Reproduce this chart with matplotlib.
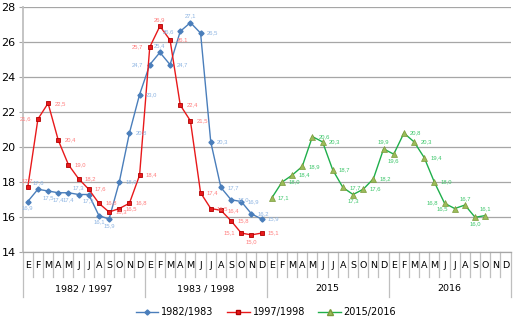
import matplotlib
matplotlib.use("Agg")
import matplotlib.pyplot as plt
from matplotlib.lines import Line2D
import numpy as np

months = ["E", "F", "M", "A", "M", "J", "J", "A", "S", "O", "N", "D"]
groups = ["1982 / 1997", "1983 / 1998", "2015", "2016"]
yticks = [14, 16, 18, 20, 22, 24, 26, 28]

# monthly values, January of the first year through December of the second
s1982_1983 = [16.9, 17.6, 17.5, 17.4, 17.4, 17.3, 17.3, 16.1, 15.9, 18.0, 20.8, 23.0,
              24.7, 25.4, 24.7, 26.6, 27.1, 26.5, 20.3, 17.7, 17.0, 16.9, 16.2, 15.9]
s1997_1998 = [17.7, 21.6, 22.5, 20.4, 19.0, 18.2, 17.6, 16.8, 16.3, 16.5, 16.8, 18.4,
              25.7, 26.9, 26.1, 22.4, 21.5, 17.4, 16.5, 16.4, 15.8, 15.1, 15.0, 15.1]
# January 2015 through October 2016
s2015_2016 = [17.1, 18.0, 18.4, 18.9, 20.6, 20.3, 18.7, 17.7, 17.3, 17.6, 18.2, 19.9,
              19.6, 20.8, 20.3, 19.4, 18.0, 16.8, 16.5, 16.7, 16.0, 16.1]

# where each value label sits: r=right, l=left, a=above, b=below
pos_1982 = list("babbbabbbrrrlarlarrrrrrr")
pos_1997 = list("alrrrrrrrrrrlarrrrrrrlbr")
pos_2015 = list("rrrrrrrrbrrabrrrrllaba")

BLUE = "#4A7EBB"
RED = "#E8191B"
GREEN = "#1FAF4B"

fig = plt.figure(figsize=(5.27, 3.24), dpi=100)
ax = fig.add_axes([0.043, 0.221, 0.926, 0.758])

n_cat = len(groups) * len(months)
ax.set_xlim(-0.5, n_cat - 0.5)
ax.set_ylim(yticks[0], yticks[-1])
ax.set_yticks(yticks)
ax.set_xticks([])
ax.grid(axis="y", color="#A6A6A6", lw=0.9)
ax.set_axisbelow(True)
for s in ["top", "right"]:
    ax.spines[s].set_visible(False)
ax.spines["left"].set_color("#BFBFBF")
ax.spines["left"].set_linewidth(1.3)
ax.spines["bottom"].set_color("#A6A6A6")
ax.spines["bottom"].set_linewidth(0.9)
ax.tick_params(axis="y", length=3, color="#A6A6A6", labelsize=8, pad=2)

x12 = np.arange(len(s1982_1983))
x15 = len(months) * 2 + np.arange(len(s2015_2016))

ax.plot(x12, s1982_1983, color=BLUE, lw=1.0, marker="D", ms=2.6,
        mfc=BLUE, mec=BLUE, zorder=3)
ax.plot(x12, s1997_1998, color=RED, lw=1.0, marker="s", ms=3.5,
        mfc=RED, mec="#B00000", mew=0.6, zorder=3)
ax.plot(x15, s2015_2016, color=GREEN, lw=1.0, marker="^", ms=4,
        mfc="#9BBB59", mec="#7A9A3A", mew=0.5, zorder=3)

offsets = {"r": ((4.5, 0), "left", "center"),
           "l": ((-4.5, 0), "right", "center"),
           "a": ((0, 3), "center", "bottom"),
           "b": ((0, -3), "center", "top")}


def add_labels(xs, vals, where, color):
    for x, v, p in zip(xs, vals, where):
        off, ha, va = offsets[p]
        ax.annotate(f"{v:.1f}".replace(".", ","), (x, v), xytext=off,
                    textcoords="offset points", ha=ha, va=va, fontsize=4.2,
                    family="Liberation Sans", color=color, zorder=4)


add_labels(x12, s1982_1983, pos_1982, "#8DB4E2")
add_labels(x12, s1997_1998, pos_1997, "#FF7C7C")
add_labels(x15, s2015_2016, pos_2015, "#3CC66A")

# multi-level category axis
trans = ax.get_xaxis_transform()
for i in range(n_cat + 1):
    b = i - 0.5
    y_end = -0.181 if i % len(months) == 0 else -0.0993
    ax.plot([b, b], [0, y_end], transform=trans, color="#BFBFBF", lw=0.9,
            clip_on=False)
for i in range(n_cat):
    ax.text(i, -0.0546, months[i % len(months)], transform=trans,
            ha="center", va="center", fontsize=6.8)
for g, name in enumerate(groups):
    ax.text(g * len(months) + (len(months) - 1) / 2, -0.149, name,
            transform=trans, ha="center", va="center", fontsize=6.8)

handles = [
    Line2D([], [], color=BLUE, lw=1.0, marker="D", ms=2.6, mfc=BLUE, mec=BLUE),
    Line2D([], [], color=RED, lw=1.0, marker="s", ms=3.5, mfc=RED, mec="#B00000"),
    Line2D([], [], color=GREEN, lw=1.0, marker="^", ms=4, mfc="#9BBB59",
           mec="#7A9A3A"),
]
fig.legend(handles, ["1982/1983", "1997/1998", "2015/2016"], loc="center",
           bbox_to_anchor=(0.505, 0.037), ncol=3, frameon=False, fontsize=7,
           handlelength=2.3, handletextpad=0.3, columnspacing=1.4)

fig.savefig("out.png", dpi=100)
